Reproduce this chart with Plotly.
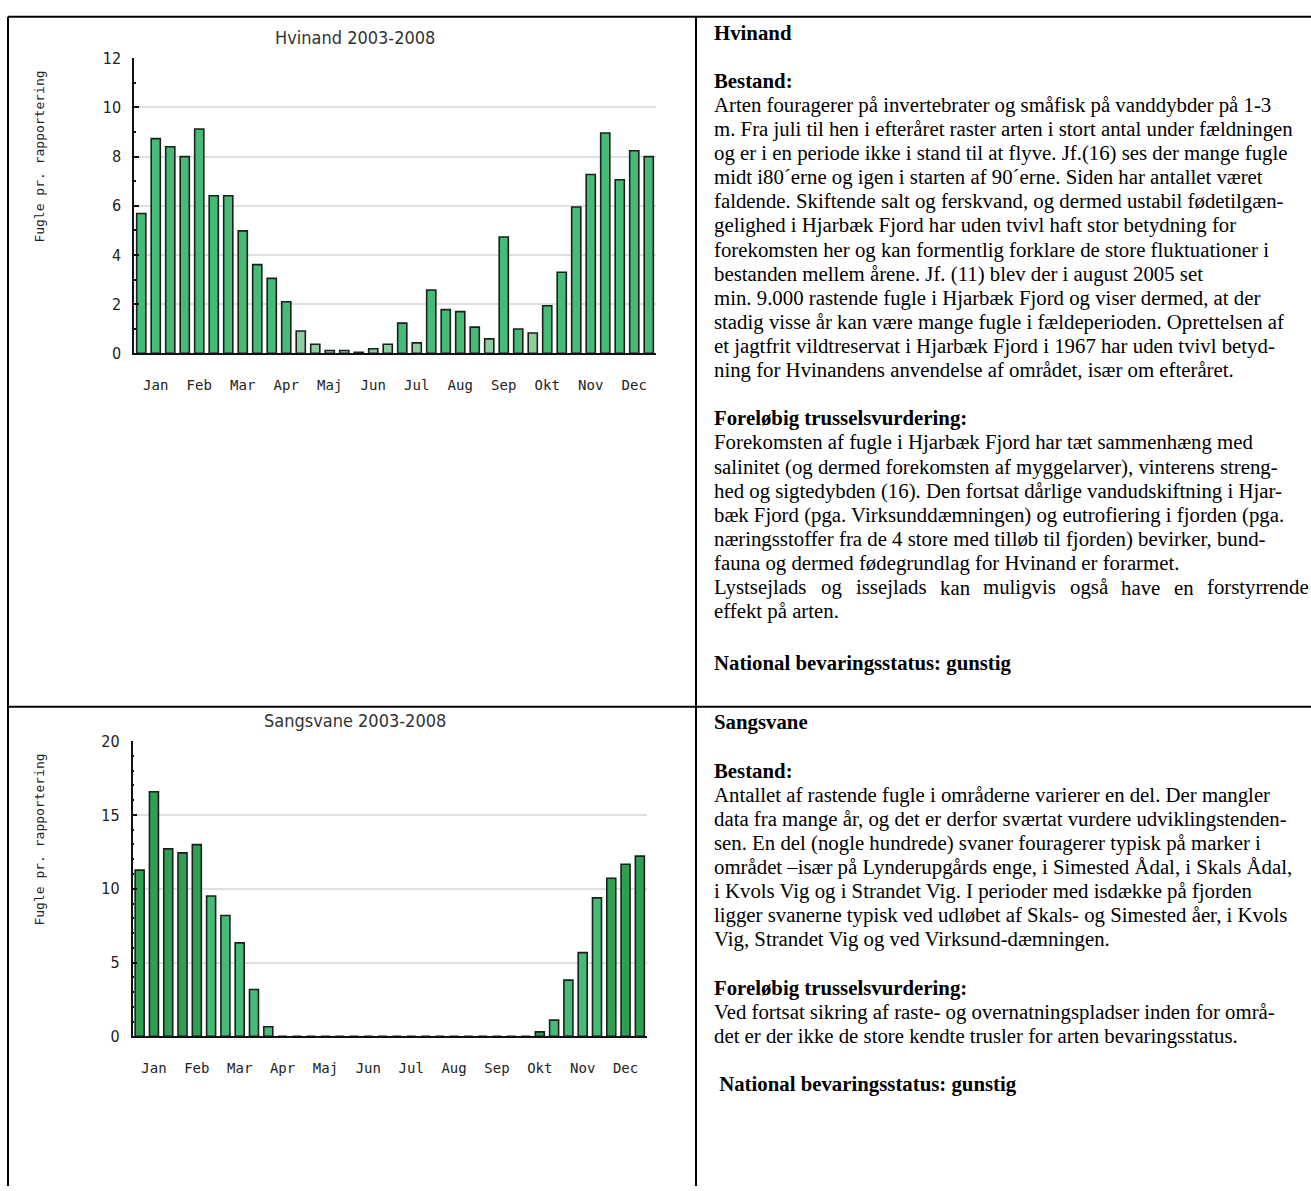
import plotly.graph_objects as go

W, H = 1311, 1191

months = ["Jan", "Feb", "Mar", "Apr", "Maj", "Jun", "Jul", "Aug", "Sep", "Okt", "Nov", "Dec"]

hvinand_title = "Hvinand 2003-2008"
hvinand_values = [5.69, 8.73, 8.40, 8.00, 9.12, 6.41, 6.41, 4.98, 3.61, 3.05, 2.10, 0.91,
                  0.37, 0.12, 0.12, 0.05, 0.19, 0.37, 1.23, 0.43, 2.58, 1.78, 1.70, 1.07,
                  0.59, 4.73, 0.99, 0.83, 1.94, 3.30, 5.95, 7.27, 8.96, 7.06, 8.24, 8.00]
# shade class per bar: 0 = light, 1 = medium, 2 = dark
hvinand_shade = [1, 1, 1, 1, 1, 1, 1, 1, 1, 1, 1, 0,
                 0, 0, 0, 2, 0, 0, 1, 0, 1, 1, 1, 1,
                 0, 1, 1, 0, 1, 1, 1, 1, 1, 1, 1, 1]
hvinand_yticks = [0, 2, 4, 6, 8, 10, 12]

sangsvane_title = "Sangsvane 2003-2008"
sangsvane_values = [11.26, 16.57, 12.70, 12.43, 12.99, 9.51, 8.19, 6.33, 3.17, 0.65, 0, 0,
                    0, 0, 0, 0, 0, 0, 0, 0, 0, 0, 0, 0,
                    0, 0, 0, 0, 0.30, 1.10, 3.81, 5.67, 9.38, 10.71, 11.66, 12.21]
sangsvane_shade = [2, 2, 2, 2, 2, 1, 1, 1, 1, 1, 1, 1,
                   1, 1, 1, 1, 1, 1, 1, 1, 1, 1, 1, 1,
                   1, 1, 1, 1, 2, 1, 1, 1, 1, 2, 2, 2]
sangsvane_yticks = [0, 5, 10, 15, 20]

y_label = "Fugle pr. rapportering"

shade_colors = {0: "#8ccf9e", 1: "#44bb77", 2: "#2ea052"}

# ---------- text column ----------
hv_text = [
    ("Hvinand", True), ("", False), ("Bestand:", True),
    ("Arten fouragerer på invertebrater og småfisk på vanddybder på 1-3", False),
    ("m. Fra juli til hen i efteråret raster arten i stort antal under fældningen", False),
    ("og er i en periode ikke i stand til at flyve. Jf.(16) ses der mange fugle", False),
    ("midt i80´erne og igen i starten af 90´erne. Siden har antallet været", False),
    ("faldende. Skiftende salt og ferskvand, og dermed ustabil fødetilgæn-", False),
    ("gelighed i Hjarbæk Fjord har uden tvivl haft stor betydning for", False),
    ("forekomsten her og kan formentlig forklare de store fluktuationer i", False),
    ("bestanden mellem årene. Jf. (11) blev der i august 2005 set", False),
    ("min. 9.000 rastende fugle i Hjarbæk Fjord og viser dermed, at der", False),
    ("stadig visse år kan være mange fugle i fældeperioden. Oprettelsen af", False),
    ("et jagtfrit vildtreservat i Hjarbæk Fjord i 1967 har uden tvivl betyd-", False),
    ("ning for Hvinandens anvendelse af området, især om efteråret.", False),
    ("", False),
    ("Foreløbig trusselsvurdering:", True),
    ("Forekomsten af fugle i Hjarbæk Fjord har tæt sammenhæng med", False),
    ("salinitet (og dermed forekomsten af myggelarver), vinterens streng-", False),
    ("hed og sigtedybden (16). Den fortsat dårlige vandudskiftning i Hjar-", False),
    ("bæk Fjord (pga. Virksunddæmningen) og eutrofiering i fjorden (pga.", False),
    ("næringsstoffer fra de 4 store med tilløb til fjorden) bevirker, bund-", False),
    ("fauna og dermed fødegrundlag for Hvinand er forarmet.", False),
    ("JUSTIFY", False),
    ("effekt på arten.", False),
]
hv_status = "National bevaringsstatus: gunstig"
justified = "Lystsejlads og issejlads kan muligvis også have en forstyrrende"

sv_text = [
    ("Sangsvane", True), ("", False), ("Bestand:", True),
    ("Antallet af rastende fugle i områderne varierer en del. Der mangler", False),
    ("data fra mange år, og det er derfor sværtat vurdere udviklingstenden-", False),
    ("sen. En del (nogle hundrede) svaner fouragerer typisk på marker i", False),
    ("området –især på Lynderupgårds enge, i Simested Ådal, i Skals Ådal,", False),
    ("i Kvols Vig og i Strandet Vig. I perioder med isdække på fjorden", False),
    ("ligger svanerne typisk ved udløbet af Skals- og Simested åer, i Kvols", False),
    ("Vig, Strandet Vig og ved Virksund-dæmningen.", False),
    ("", False),
    ("Foreløbig trusselsvurdering:", True),
    ("Ved fortsat sikring af raste- og overnatningspladser inden for områ-", False),
    ("det er der ikke de store kendte trusler for arten bevaringsstatus.", False),
    ("", False),
    (" National bevaringsstatus: gunstig", True),
]


def px(x):
    return x / W


def py(y):
    return 1 - y / H


fig = go.Figure()

charts = [
    dict(values=hvinand_values, shade=hvinand_shade, title=hvinand_title, yticks=hvinand_yticks,
         x0=134, x1=656, top=50, bottom=350),
    dict(values=sangsvane_values, shade=sangsvane_shade, title=sangsvane_title, yticks=sangsvane_yticks,
         x0=132.5, x1=647, top=744, bottom=1044),
]

ann = []
tick_font = dict(family="DejaVu Sans Condensed, Liberation Sans Narrow, Arial Narrow, sans-serif",
                 size=16, color="#222")
mono = "DejaVu Sans Mono, Liberation Mono, monospace"

for i, c in enumerate(charts):
    n = len(c["values"])
    xs = list(range(n))
    suffix = "" if i == 0 else "2"
    fig.add_trace(go.Bar(
        x=xs, y=c["values"], xaxis="x" + suffix, yaxis="y" + suffix,
        width=0.63,
        marker=dict(color=[shade_colors[s] for s in c["shade"]],
                    line=dict(color="#1e1e1e", width=1.6)),
        showlegend=False, hoverinfo="y",
    ))
    ymax = c["yticks"][-1]
    fig.update_layout(**{
        "xaxis" + suffix: dict(
            domain=[px(c["x0"]), px(c["x1"])], anchor="y" + suffix,
            range=[-0.5, n - 0.5],
            tickvals=[1 + 3 * k for k in range(12)], ticktext=months,
            ticks="", showgrid=False, zeroline=False,
            showline=True, linecolor="#111", linewidth=1.5,
            tickfont=dict(family=mono, size=14, color="#222"),
            ticklabelstandoff=18, fixedrange=True,
        ),
        "yaxis" + suffix: dict(
            domain=[py(c["bottom"]), py(c["top"])], anchor="x" + suffix,
            range=[0, ymax], tickvals=c["yticks"],
            showgrid=True, gridcolor="#e0e0e0", gridwidth=2,
            zeroline=False, showline=True, linecolor="#111", linewidth=1.5,
            ticks="inside", ticklen=5, tickcolor="#111", tickwidth=1.5,
            minor=dict(dtick=1, ticks="inside", ticklen=2, tickcolor="#111", showgrid=False),
            tickfont=tick_font, ticklabelstandoff=8, fixedrange=True,
        ),
    })
    ann.append(dict(text=c["title"], x=px(355), y=py(c["top"] - 21), xref="paper", yref="paper",
                    xanchor="center", yanchor="middle", showarrow=False,
                    font=dict(family="DejaVu Sans Condensed, DejaVu Sans, sans-serif", size=18, color="#333")))
    ann.append(dict(text=y_label, x=px(40), y=py(c["top"] + 100), xref="paper", yref="paper",
                    xanchor="center", yanchor="middle", showarrow=False, textangle=-90,
                    font=dict(family=mono, size=13, color="#222")))

# text column
serif = "Liberation Serif, Times New Roman, serif"
FS = 20.8
LS = 24.5
TX = 712
RX = 1307

# approximate Times advance widths (em/1000) for spacing the justified line
tw = dict(a=444, b=500, c=444, d=500, e=444, f=333, g=500, h=500, i=278, j=278, k=500, l=278,
          m=778, n=500, o=500, p=500, q=500, r=333, s=389, t=278, u=500, v=500, w=722, x=500,
          y=500, z=444, L=611)
tw["å"] = 444


def txt_ann(t, x, y, anchor="left"):
    ann.append(dict(text=t, x=px(x), y=py(y), xref="paper", yref="paper",
                    xanchor=anchor, yanchor="middle", showarrow=False,
                    font=dict(family=serif, size=FS, color="black")))


def add_block(lines, y_start):
    y = y_start
    for t, bold in lines:
        if t == "JUSTIFY":
            words = justified.split(" ")
            widths = [sum(tw.get(ch, 500) for ch in w_) * FS / 1000 for w_ in words]
            gap = (RX - TX - sum(widths)) / (len(words) - 1)
            xcur = TX
            for w_, wd in zip(words, widths):
                txt_ann(w_, xcur, y)
                xcur += wd + gap
        elif t:
            txt_ann("<b>" + t + "</b>" if bold else t, TX, y)
        y += LS


add_block(hv_text, 24)
txt_ann("<b>" + hv_status + "</b>", TX, 665)
add_block(sv_text, 725)

shapes = []
for (x0, y0, x1, y1) in [(8, 8, 8, H + 5), (8, 8, W + 5, 8), (696, 8, 696, H + 5), (8, 709, W + 5, 709)]:
    shapes.append(dict(type="line", xref="paper", yref="paper", x0=px(x0), y0=py(y0), x1=px(x1), y1=py(y1),
                       line=dict(color="black", width=2)))

fig.update_layout(
    width=W, height=H, margin=dict(l=0, r=0, t=0, b=0),
    paper_bgcolor="white", plot_bgcolor="white",
    annotations=ann, shapes=shapes,
)

fig.write_html("out.html", config={"displayModeBar": False},
               post_script="document.body.style.margin='0';")
